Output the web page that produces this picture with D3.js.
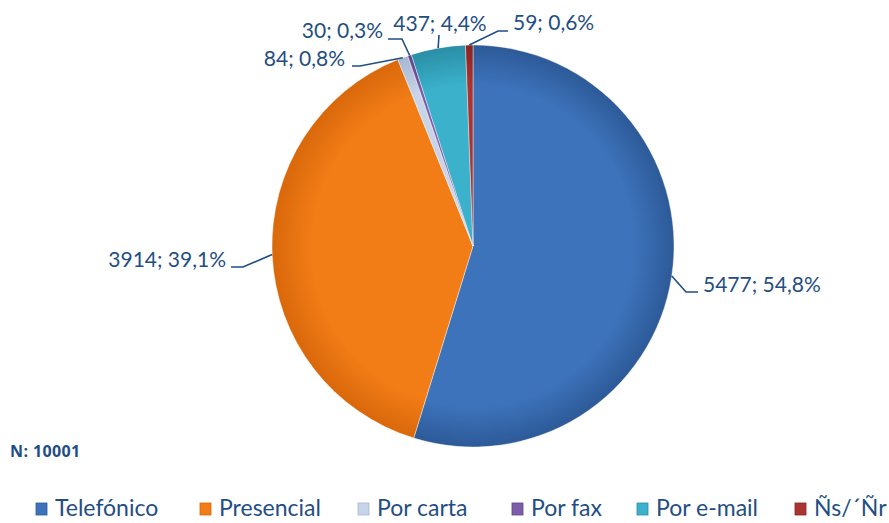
<!DOCTYPE html>
<html>
<head>
<meta charset="utf-8">
<script src="https://cdn.jsdelivr.net/npm/d3@7/dist/d3.min.js"></script>
<style>
  body { margin: 0; background: #fff; }
  svg { display: block; }
</style>
</head>
<body>
<svg id="chart" width="889" height="523"></svg>
<script>
// data
const categories = ["Telefónico", "Presencial", "Por carta", "Por fax", "Por e-mail", "Ñs/´Ñr"];
const counts = [5477, 3914, 84, 30, 437, 59];
const percents = ["54,8%", "39,1%", "0,8%", "0,3%", "4,4%", "0,6%"];
const sampleNote = "N: 10001";

const colors = ["#3d73bb", "#f27c16", "#c8d5e9", "#7d5ca8", "#3bb1cb", "#aa3431"];
const darker = ["#2d5a98", "#d9680b", "#a6b7d1", "#5f4489", "#2a8ea6", "#862321"];

// label layout: elbow point, end of leader, and where text sits
const labelLayout = [
  { elbow: [686, 292], end: [698, 292], text: [703, 292], anchor: "start" },
  { elbow: [243, 267], end: [231, 267], text: [226, 267], anchor: "end" },
  { elbow: [360, 66], end: [352, 66], text: [345, 66], anchor: "end" },
  { elbow: [402, 39], end: [388, 39], text: [383, 38], anchor: "end" },
  { elbow: [439, 35], end: [439, 35], text: [440, 31], anchor: "middle" },
  { elbow: [498, 31], end: [508, 31], text: [513, 30], anchor: "start" }
];

const svg = d3.select("#chart");
const cx = 473, cy = 246, radius = 201;
const textColor = "#1f4e85";
const font = "Lato, 'Open Sans', sans-serif";

// gradients for the shaded look (centred on the pie, which is drawn at its own origin)
const defs = svg.append("defs");
colors.forEach((c, i) => {
  const grad = defs.append("radialGradient")
    .attr("id", "grad" + i)
    .attr("gradientUnits", "userSpaceOnUse")
    .attr("cx", 0).attr("cy", 0).attr("r", radius);
  grad.append("stop").attr("offset", "0%").attr("stop-color", c);
  grad.append("stop").attr("offset", "80%").attr("stop-color", c);
  grad.append("stop").attr("offset", "100%").attr("stop-color", darker[i]);
});

const pie = d3.pie().sort(null).value(d => d);
const arcs = pie(counts);
const arc = d3.arc().innerRadius(0).outerRadius(radius);

const g = svg.append("g").attr("transform", `translate(${cx},${cy})`);

g.selectAll("path.slice")
  .data(arcs)
  .join("path")
  .attr("class", "slice")
  .attr("d", arc)
  .attr("fill", (d, i) => `url(#grad${i})`)
  .attr("stroke", "rgba(255,255,255,0.5)")
  .attr("stroke-width", 0.8);

// leader lines and labels
const labels = svg.append("g");
arcs.forEach((d, i) => {
  const mid = (d.startAngle + d.endAngle) / 2;
  const sx = cx + radius * Math.sin(mid);
  const sy = cy - radius * Math.cos(mid);
  const L = labelLayout[i];
  labels.append("polyline")
    .attr("points", [[sx, sy], L.elbow, L.end].map(p => p.join(",")).join(" "))
    .attr("fill", "none")
    .attr("stroke", textColor)
    .attr("stroke-width", 1.6);
  labels.append("text")
    .attr("x", L.text[0])
    .attr("y", L.text[1])
    .attr("text-anchor", L.anchor)
    .attr("fill", textColor)
    .style("font-family", font)
    .style("font-size", "21px")
    .text(`${counts[i]}; ${percents[i]}`);
});

// sample size note
svg.append("text")
  .attr("x", 10).attr("y", 457)
  .attr("fill", textColor)
  .style("font-family", "'Open Sans', sans-serif")
  .style("font-weight", "bold")
  .style("font-size", "16px")
  .style("letter-spacing", "0.4px")
  .text(sampleNote);

// legend
const legendX = [36, 200, 358, 512, 637, 795];
const legend = svg.append("g");
categories.forEach((c, i) => {
  const item = legend.append("g").attr("transform", `translate(${legendX[i]},503)`);
  item.append("rect")
    .attr("width", 11).attr("height", 12)
    .attr("fill", colors[i])
    .attr("stroke", darker[i])
    .attr("stroke-width", 0.8);
  item.append("text")
    .attr("x", 19).attr("y", 13)
    .attr("fill", textColor)
    .style("font-family", font)
    .style("font-size", "23px")
    .text(c);
});
</script>
</body>
</html>
